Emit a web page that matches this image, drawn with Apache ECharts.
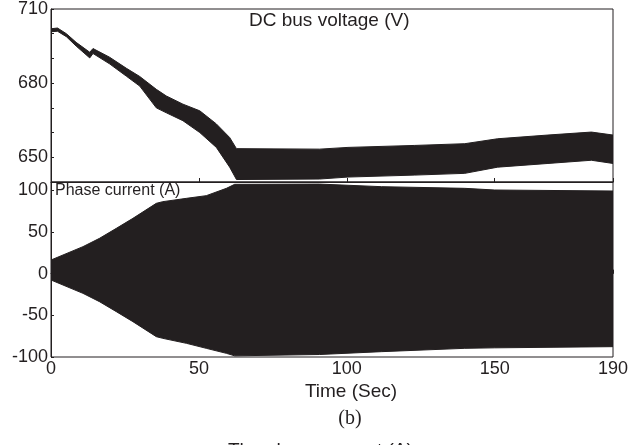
<!DOCTYPE html>
<html>
<head>
<meta charset="utf-8">
<script src="https://cdn.jsdelivr.net/npm/echarts@6/dist/echarts.min.js"></script>
<style>
html,body{margin:0;padding:0;background:#fff;}
#chart{width:635px;height:445px;}
</style>
</head>
<body>
<div id="chart"></div>
<script>
// ---- Data ----
// DC bus voltage envelope (V)
var voltTime  = [0, 2.2, 5.2, 8.5, 13.1, 14.2, 19.8, 25.5, 30, 35.6, 39, 44.6, 50.3, 55.9, 60.4, 62.7, 90.8, 100.4, 123, 139.9, 151, 168, 182.7, 190];
var voltUpper = [702, 702.3, 700, 696.5, 692.5, 694, 690.5, 686, 682.7, 677.5, 674.8, 671.5, 668.8, 663.5, 658, 653.5, 653.3, 654, 654.8, 655.5, 657.5, 659, 660.2, 659];
var voltLower = [700.8, 701, 698.8, 695, 690.2, 692, 687.8, 682.8, 678.8, 670, 668, 664.8, 660, 654, 646, 641, 641.2, 642, 642.8, 643.5, 646, 647.5, 648.8, 647.5];

// Phase current envelope (A)
var curTime  = [0, 10.8, 16.4, 22.1, 27.7, 35.6, 37.8, 45.8, 52.5, 59.3, 62.1, 90.8, 111.7, 139.9, 150, 190];
var curUpper = [16.4, 32.4, 42.4, 54.4, 66.4, 84.4, 86.4, 90.4, 93.6, 102.4, 107.2, 107.5, 104.4, 102.4, 100.4, 99.2];
var curLower = [-7.6, -23.6, -33.6, -45.6, -57.6, -75.6, -77.6, -83.6, -89.6, -95.6, -98.6, -97, -93.6, -89.6, -89, -87.6];

// Axis ticks / labels
var xTicks = [0, 50, 100, 150, 190];
var voltLabels = [650, 680, 710];
var curLabels = [-100, -50, 0, 50, 100];

// ---- Build series data: rows of [time, lower, upper] ----
function rows(t, lo, hi) { return t.map(function (x, i) { return [x, lo[i], hi[i]]; }); }

var ink = '#231f20';
var fontSans = '"Liberation Sans", Arial, sans-serif';

// draws the whole envelope as one polygon through the axis scales
function bandRenderer(params, api) {
  if (params.dataIndexInside !== 0) return null;
  var n = params.dataInsideLength;
  var top = [], bottom = [];
  for (var i = 0; i < n; i++) {
    var t = api.value(0, i), lo = api.value(1, i), hi = api.value(2, i);
    top.push(api.coord([t, hi]));
    bottom.push(api.coord([t, lo]));
  }
  var pts = top.concat(bottom.reverse());
  return {
    type: 'polygon',
    shape: {points: pts},
    style: {fill: ink, stroke: ink, lineWidth: 1}
  };
}

var chart = echarts.init(document.getElementById('chart'), null, {renderer: 'canvas'});

var gridLeft = 51, gridRight = 22;

var option = {
  animation: false,
  backgroundColor: '#ffffff',
  grid: [
    {left: gridLeft, right: gridRight, top: 7, height: 175, show: true, borderColor: ink, borderWidth: 1},
    {left: gridLeft, right: gridRight, top: 182, height: 175, show: true, borderColor: ink, borderWidth: 1}
  ],
  xAxis: [
    {gridIndex: 0, type: 'value', min: 0, max: 190, interval: 50,
     axisLine: {lineStyle: {color: ink, width: 1}},
     axisTick: {inside: true, length: 4, lineStyle: {color: ink}},
     axisLabel: {show: false}, splitLine: {show: false}},
    {gridIndex: 1, type: 'value', min: 0, max: 190, interval: 50,
     axisLine: {lineStyle: {color: ink, width: 1}},
     axisTick: {inside: true, length: 4, lineStyle: {color: ink}},
     axisLabel: {show: true, margin: 3, color: ink, fontSize: 18, fontFamily: fontSans,
       showMaxLabel: true,
       formatter: function (v) { return xTicks.indexOf(v) >= 0 ? String(v) : ''; }},
     splitLine: {show: false}}
  ],
  yAxis: [
    {gridIndex: 0, type: 'value', min: 640, max: 710, interval: 10,
     axisLine: {show: true, lineStyle: {color: ink, width: 1}},
     axisTick: {show: true, inside: true, length: 3, lineStyle: {color: ink}},
     axisLabel: {margin: 3, color: ink, fontSize: 18, fontFamily: fontSans,
       formatter: function (v) { return voltLabels.indexOf(v) >= 0 ? String(v) : ''; }},
     splitLine: {show: false}},
    {gridIndex: 1, type: 'value', min: -100, max: 110, interval: 50,
     axisLine: {show: true, lineStyle: {color: ink, width: 1}},
     axisTick: {show: true, inside: true, length: 3, lineStyle: {color: ink}},
     axisLabel: {margin: 3, color: ink, fontSize: 18, fontFamily: fontSans,
       showMaxLabel: false,
       formatter: function (v) { return curLabels.indexOf(v) >= 0 ? String(v) : ''; }},
     splitLine: {show: false}}
  ],
  series: [
    {name: 'DC bus voltage', type: 'custom', xAxisIndex: 0, yAxisIndex: 0,
     renderItem: bandRenderer, clip: true,
     encode: {x: 0, y: [1, 2]},
     data: rows(voltTime, voltLower, voltUpper)},
    {name: 'Phase current', type: 'custom', xAxisIndex: 1, yAxisIndex: 1,
     renderItem: bandRenderer, clip: true,
     encode: {x: 0, y: [1, 2]},
     data: rows(curTime, curLower, curUpper)}
  ],
  graphic: [
    {type: 'text', left: 249, top: 11, z: 100,
     style: {text: 'DC bus voltage (V)', fill: ink, font: '19px "Liberation Sans", Arial, sans-serif'}},
    {type: 'text', left: 55, top: 183, z: 100,
     style: {text: 'Phase current (A)', fill: ink, font: '16px "Liberation Sans", Arial, sans-serif'}},
    {type: 'text', x: 351, y: 392, z: 100,
     style: {text: 'Time (Sec)', fill: ink, font: '19px "Liberation Sans", Arial, sans-serif', textAlign: 'center', textVerticalAlign: 'middle'}},
    {type: 'text', x: 350, y: 419, z: 100,
     style: {text: '(b)', fill: ink, font: '20px "Liberation Serif", "Times New Roman", serif', textAlign: 'center', textVerticalAlign: 'middle'}},
    {type: 'text', x: 228, y: 441, z: 100,
     style: {text: 'The phase current (A)', fill: ink, font: '19px "Liberation Sans", Arial, sans-serif', textAlign: 'left', textVerticalAlign: 'top'}}
  ]
};

chart.setOption(option);
</script>
</body>
</html>
